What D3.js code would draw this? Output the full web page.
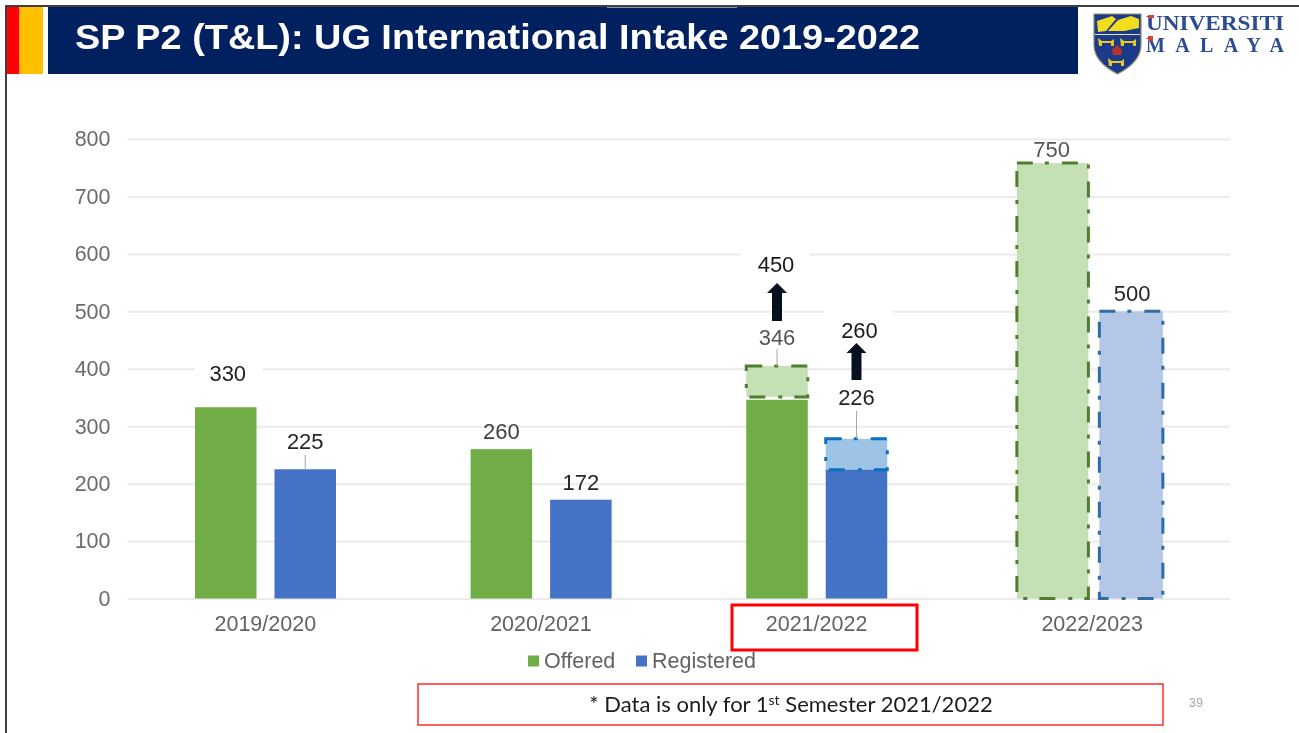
<!DOCTYPE html>
<html>
<head>
<meta charset="utf-8">
<script src="https://cdn.jsdelivr.net/npm/d3@7"></script>
<style>
html,body{margin:0;padding:0;background:#fff;overflow:hidden}
svg{display:block;filter:blur(0.5px)}
</style>
</head>
<body>
<div id="chart"></div>
<script>
const titleText = "SP P2 (T&L): UG International Intake 2019-2022";
const years = ["2019/2020","2020/2021","2021/2022","2022/2023"];
const seriesNames = ["Offered","Registered"];
const offered = [333,260,346,null];
const registered = [225,172,226,null];
const offeredLabels = [330,260,346,750];
const registeredLabels = [225,172,226,500];
const projectedYears = ["2021/2022","2021/2022","2022/2023","2022/2023"];
const projectedSeries = ["Offered","Registered","Offered","Registered"];
const projectedLow = [351,224,0,0];
const projectedHigh = [405,278,758,500];
const targetYears = ["2021/2022","2021/2022"];
const targetSeries = ["Offered","Registered"];
const targetLabels = [450,260];
const yTicks = [0,100,200,300,400,500,600,700,800];
const noteText = "* Data is only for 1";
const noteTail = " Semester 2021/2022";

const W=1299,H=733;
const svg=d3.select("#chart").append("svg").attr("width",W).attr("height",H);
const sans="'Liberation Sans',Arial,sans-serif";

/* frame and header */
svg.append("rect").attr("x",6).attr("y",6).attr("width",W).attr("height",H).attr("fill","#fff").attr("stroke","#000").attr("stroke-width",1.5);
svg.append("rect").attr("x",7).attr("y",7).attr("width",12.5).attr("height",67).attr("fill","#ff0000");
svg.append("rect").attr("x",19.5).attr("y",7).attr("width",23.5).attr("height",67).attr("fill","#ffc000");
svg.append("rect").attr("x",48).attr("y",7).attr("width",1030).attr("height",67).attr("fill","#002060");
svg.append("line").attr("x1",607).attr("x2",737).attr("y1",7.5).attr("y2",7.5).attr("stroke","#8a93a8").attr("stroke-width",1);
svg.append("text").attr("x",75).attr("y",49).attr("fill","#fff").attr("font-family",sans).attr("font-weight",700)
  .attr("font-size",35).attr("textLength",845).attr("lengthAdjust","spacingAndGlyphs").text(titleText);

/* logo */
const logo=svg.append("g");
logo.append("path").attr("d","M1094 14H1141V45C1141 58 1129 68 1117.500 74C1106 68 1094 58 1094 45Z").attr("fill","#1d3a8a").attr("stroke","#8f8f6a").attr("stroke-width",1.2);
logo.append("path").attr("d","M1097 21L1112 16L1116 19L1106 31L1098 32Z").attr("fill","#f2dc1e");
logo.append("path").attr("d","M1108 31L1118 20L1131 16L1139 19L1139 28L1124 31Z").attr("fill","#f2dc1e");
logo.append("line").attr("x1",1095).attr("x2",1140).attr("y1",34.500).attr("y2",34.500).attr("stroke","#e8e3b0").attr("stroke-width",1);
[[1106,42],[1128,42],[1116,62]].forEach(([cx,cy])=>{
  logo.append("path").attr("d",`M${cx-8} ${cy-4}L${cx-4} ${cy-1}H${cx+5}L${cx+8} ${cy-3}V${cy+4}H${cx+5}V${cy+1}H${cx-4}V${cy+4}H${cx-7}Z`).attr("fill","#e3c92b");
});
logo.append("path").attr("d","M1117 45L1122 50L1121 55H1113L1112 50Z").attr("fill","#b8322e");
logo.append("text").attr("x",1146).attr("y",29.500).attr("fill","#2c4c92").attr("font-family","'Liberation Serif',serif").attr("font-weight",700).attr("font-size",20)
  .attr("textLength",138).attr("lengthAdjust","spacingAndGlyphs").text("UNIVERSITI");
logo.append("text").attr("x",1146).attr("y",52).attr("fill","#2c4c92").attr("font-family","'Liberation Serif',serif").attr("font-weight",700).attr("font-size",20)
  .attr("textLength",138).attr("lengthAdjust","spacing").text("MALAYA");
logo.append("rect").attr("x",1148).attr("y",15).attr("width",6).attr("height",3).attr("fill","#d9403c");
logo.append("rect").attr("x",1148).attr("y",36).attr("width",5).attr("height",5).attr("fill","#d9403c");

/* scales */
const x0=d3.scaleBand().domain(years).range([127.5,1230]);
const x1=d3.scaleBand().domain(seriesNames).range([67.5,208.5]).paddingInner(0.226);
const y=d3.scaleLinear().domain([0,800]).range([598.5,139]);
const barX=(yr,s)=>x0(yr)+x1(s);
const barC=(yr,s)=>barX(yr,s)+x1.bandwidth()/2;

/* axes */
const gy=svg.append("g").attr("transform","translate(127.5,0)")
  .call(d3.axisLeft(y).tickValues(yTicks).tickSize(-1102.5).tickPadding(17));
gy.select(".domain").remove();
gy.selectAll("line").attr("stroke","#ebebeb").attr("stroke-width",2);
gy.selectAll("text").attr("fill","#6b6b6b").attr("font-family",sans).attr("font-size",21.5);
const gx=svg.append("g").attr("transform","translate(0,598.5)")
  .call(d3.axisBottom(x0).tickSize(0).tickPadding(17));
gx.select(".domain").remove();
gx.selectAll("text").attr("fill","#636363").attr("font-family",sans).attr("font-size",21.5);

/* bars */
const colors={Offered:"#70ad47",Registered:"#4472c4"};
[["Offered",offered],["Registered",registered]].forEach(([s,vals])=>{
  svg.append("g").selectAll("rect").data(years.map((yr,i)=>({yr,v:vals[i]})).filter(d=>d.v!=null)).join("rect")
    .attr("x",d=>barX(d.yr,s)).attr("width",x1.bandwidth())
    .attr("y",d=>y(d.v)).attr("height",d=>y(0)-y(d.v)).attr("fill",colors[s]);
});

/* projected bars */
const projected=projectedYears.map((yr,i)=>({yr,s:projectedSeries[i],lo:projectedLow[i],hi:projectedHigh[i]}));
const projFill=d=>d.s==="Offered"?"#c5e0b4":(d.yr==="2021/2022"?"#9dc3e6":"#b4c7e7");
const projStroke=d=>d.s==="Offered"?"#4e7f2f":(d.yr==="2021/2022"?"#0a70c0":"#2e6da4");
const growLeft=d=>d.yr==="2022/2023"?(d.s==="Offered"?5:2):0;
const growRight=d=>(d.yr==="2022/2023"&&d.s==="Offered")?5:0;
svg.append("g").selectAll("rect").data(projected).join("rect")
  .attr("x",d=>barX(d.yr,d.s)-growLeft(d)).attr("width",d=>x1.bandwidth()+growLeft(d)+growRight(d))
  .attr("y",d=>y(d.hi)).attr("height",d=>y(d.lo)-y(d.hi))
  .attr("fill",projFill).attr("stroke",projStroke).attr("stroke-width",3).attr("stroke-dasharray","16 12 4 13");

/* leaders */
const leader=(yr,s,y1,v)=>svg.append("line").attr("x1",barC(yr,s)).attr("x2",barC(yr,s)).attr("y1",y1).attr("y2",y(v)).attr("stroke","#a6a6a6").attr("stroke-width",1);
leader("2019/2020","Registered",455,registered[0]);
leader("2021/2022","Offered",349,projectedHigh[0]);
leader("2021/2022","Registered",411,projectedHigh[1]);

/* data labels */
const offeredLabelY=[373,431,337,149];
const registeredLabelY=[441,482,397,293];
const offeredLabelColor=["#1f1f1f","#404040","#555555","#555555"];
const offeredLabelShift=[2,0,0,-1];
const dl=svg.append("g").attr("font-family",sans).attr("font-size",22).attr("text-anchor","middle").attr("dominant-baseline","central");
offeredLabels.forEach((v,i)=>{
  dl.append("text").attr("x",barC(years[i],"Offered")+offeredLabelShift[i]).attr("y",offeredLabelY[i]).attr("fill",offeredLabelColor[i]).text(v);
});
registeredLabels.forEach((v,i)=>{
  dl.append("text").attr("x",barC(years[i],"Registered")).attr("y",registeredLabelY[i]).attr("fill","#262626").text(v);
});

/* target labels and arrows */
const targetY=[264,330];
const arrowTop=[283,343],arrowBottom=[321,380];
targetLabels.forEach((v,i)=>{
  const cx=barC(targetYears[i],targetSeries[i])+(i===1?3:-1);
  dl.append("text").attr("x",cx).attr("y",targetY[i]).attr("fill","#1a1a1a").text(v);
  const t=arrowTop[i],b=arrowBottom[i],ax=cx+(i===1?-3:1);
  svg.append("path").attr("d",`M${ax} ${t}L${ax+10} ${t+10}H${ax+5}V${b}H${ax-5}V${t+10}H${ax-10}Z`).attr("fill","#06101f");
});

/* gridline gaps */
const gaps=[[400,229,68],[600,775.500,69],[500,858.500,69]];
gaps.forEach(([v,cx,w])=>{
  gy.append("rect").attr("x",cx-w/2-127.5).attr("y",y(v)-2).attr("width",w).attr("height",4).attr("fill","#fff");
});

/* legend */
const legendX=[528,636],legendTextX=[544,652];
seriesNames.forEach((s,i)=>{
  svg.append("rect").attr("x",legendX[i]).attr("y",655.5).attr("width",11).attr("height",11).attr("fill",colors[s]);
  svg.append("text").attr("x",legendTextX[i]).attr("y",661).attr("dominant-baseline","central").attr("fill","#636363").attr("font-family",sans).attr("font-size",21.5).text(s);
});

/* red boxes */
svg.append("rect").attr("x",732).attr("y",605).attr("width",185).attr("height",45).attr("fill","none").attr("stroke","#ff0000").attr("stroke-width",3);
svg.append("rect").attr("x",418).attr("y",684).attr("width",745).attr("height",41).attr("fill","none").attr("stroke","#ff3a3a").attr("stroke-width",1.6);
const note=svg.append("text").attr("x",791).attr("y",712).attr("text-anchor","middle").attr("fill","#1c1c1c").attr("font-family","Lato,sans-serif").attr("font-size",22);
note.append("tspan").text(noteText);
note.append("tspan").attr("dy",-7).attr("font-size",14).text("st");
note.append("tspan").attr("dy",7).text(noteTail);
svg.append("text").attr("x",1196).attr("y",703).attr("text-anchor","middle").attr("dominant-baseline","central").attr("fill","#a6a6a6").attr("font-family",sans).attr("font-size",12.5).text("39");
</script>
</body>
</html>
